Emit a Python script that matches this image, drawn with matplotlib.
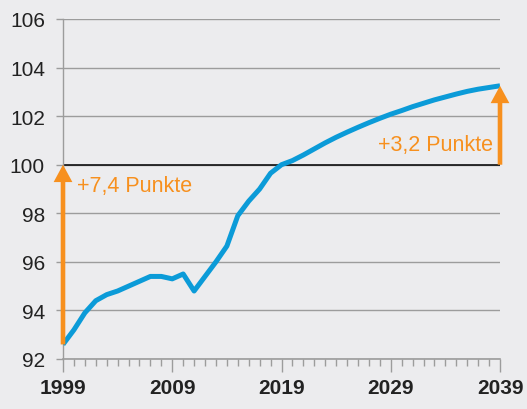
import numpy as np
import matplotlib
matplotlib.use("Agg")
import matplotlib.pyplot as plt
from matplotlib.ticker import MultipleLocator

# ---------------------------------------------------------------------------
# Data (index)
# ---------------------------------------------------------------------------
years = list(range(1999, 2040))
values = [
    92.6, 93.2, 93.9, 94.4, 94.65, 94.8, 95.0, 95.2, 95.4, 95.4,
    95.3, 95.5, 94.8, 95.4, 96.0, 96.65, 97.9, 98.5, 99.0, 99.65,
    100.0, 100.17, 100.4, 100.65, 100.9, 101.13, 101.34, 101.54, 101.73, 101.91,
    102.08, 102.23, 102.39, 102.53, 102.67, 102.79, 102.91, 103.02, 103.11, 103.18,
    103.25,
]
major_years = [1999, 2009, 2019, 2029, 2039]
baseline = 100
label_left = "+7,4 Punkte"
label_right = "+3,2 Punkte"

BG = "#ececee"
BLUE = "#0b9bd8"
ORANGE = "#f7901e"
GRID = "#9c9c9c"
TEXT = "#222222"

plt.rcParams["font.family"] = ["Liberation Sans", "DejaVu Sans"]

fig = plt.figure(figsize=(5.27, 4.10), dpi=100, facecolor=BG)
ax = fig.add_axes([63 / 527, 50 / 410, 437 / 527, 340 / 410])
ax.set_facecolor(BG)

ax.set_xlim(years[0], years[-1])
ax.set_ylim(92, 106)

# grid + baseline
ax.yaxis.set_major_locator(MultipleLocator(2))
ax.grid(axis="y", color=GRID, linewidth=1.0)
ax.axhline(baseline, color="#111111", linewidth=1.2, zorder=2)

# series
ax.plot(years, values, color=BLUE, linewidth=3.6, solid_capstyle="butt",
        solid_joinstyle="round", zorder=3)

# arrows
ap = dict(width=3.3, headwidth=13.5, headlength=12.5, facecolor=ORANGE,
          edgecolor="none", shrink=0)
ax.annotate("", xy=(years[0], baseline), xytext=(years[0], values[0]),
            arrowprops=ap, annotation_clip=False, zorder=4)
ax.annotate("", xy=(years[-1], values[-1]), xytext=(years[-1], baseline),
            arrowprops=ap, annotation_clip=False, zorder=4)

ax.text(years[0] + 1.3, 99.13, label_left, color=ORANGE, fontsize=15.5,
        ha="left", va="center")
ax.text(years[-1] - 0.6, 100.85, label_right, color=ORANGE, fontsize=15.5,
        ha="right", va="center")

# axes styling
for side in ("top", "right", "bottom"):
    ax.spines[side].set_visible(False)
ax.spines["left"].set_color(GRID)
ax.spines["left"].set_linewidth(1.0)
ax.axhline(92, color=GRID, linewidth=1.2, clip_on=False)

ax.set_xticks(major_years)
ax.set_xticks(years, minor=True)
ax.tick_params(axis="x", which="major", length=9, width=1, color=GRID,
               pad=5, labelsize=15, labelcolor=TEXT)
ax.tick_params(axis="x", which="minor", length=5, width=1, color=GRID)
for lab in ax.get_xticklabels():
    lab.set_fontweight("bold")
ax.tick_params(axis="y", length=5, width=1, color=GRID, pad=8,
               labelsize=15, labelcolor=TEXT)

fig.savefig("out.png", dpi=100, facecolor=BG)
